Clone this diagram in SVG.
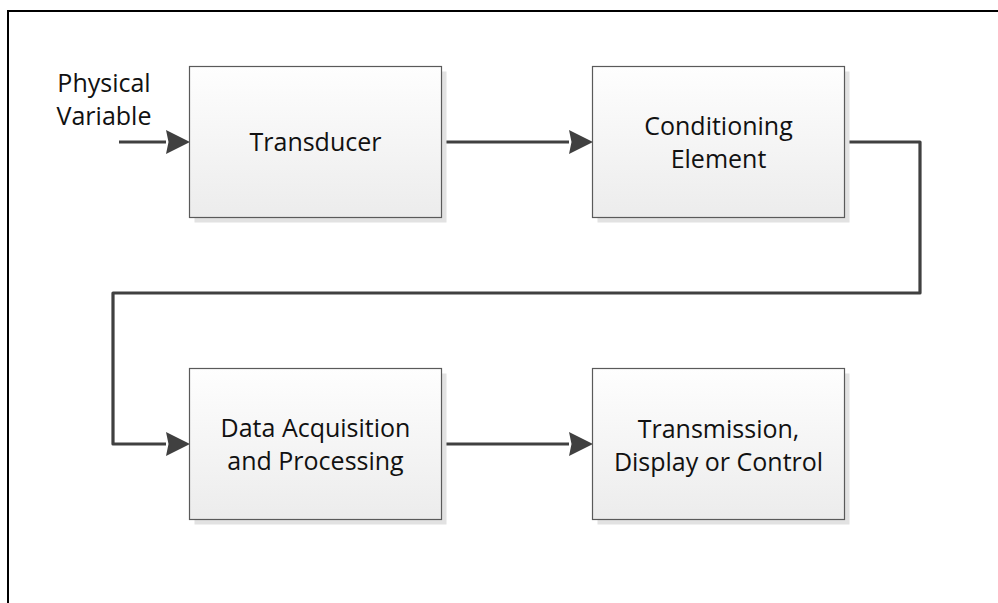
<svg xmlns="http://www.w3.org/2000/svg" width="998" height="603" viewBox="0 0 998 603">
  <defs>
    <linearGradient id="boxfill" x1="0" y1="0" x2="0" y2="1">
      <stop offset="0" stop-color="#fefefe"/>
      <stop offset="1" stop-color="#ececec"/>
    </linearGradient>
    <marker id="arrow" markerUnits="userSpaceOnUse" markerWidth="24" markerHeight="24" refX="0" refY="12" orient="auto" viewBox="0 0 24 24">
      <path d="M0,0 L24,12 L0,24 L2.5,12 z" fill="#404040"/>
    </marker>
    <style>
      .box { fill: url(#boxfill); stroke: #5a5a5a; stroke-width: 1.2; }
      .shadow { fill: #e2e2e2; }
      .lbl { font-family: "Open Sans", "Liberation Sans", sans-serif; font-size: 25px; fill: #111; text-anchor: middle; }
      .conn { fill: none; stroke: #404040; stroke-width: 3.2; marker-end: url(#arrow); }
      .frame { fill: none; stroke: #000; stroke-width: 2; }
    </style>
  </defs>
  <rect width="998" height="603" fill="#fff"/>
  <path class="frame" d="M8,603 L8,11 L998,11"/>

  <g id="connectors">
    <path class="conn" d="M119,142 L166,142"/>
    <path class="conn" d="M442,142 L569,142"/>
    <path class="conn" d="M844,142 L920,142 L920,293 L113,293 L113,444 L166,444" stroke-linejoin="round"/>
    <path class="conn" d="M442,444 L569,444"/>
  </g>

  <g id="physical-variable">
    <text class="lbl" x="104" y="92">Physical</text>
    <text class="lbl" x="104" y="125">Variable</text>
  </g>

  <g id="transducer">
    <rect class="shadow" x="194.5" y="71.5" width="252" height="151"/>
    <rect class="box" x="189.5" y="66.5" width="252" height="151"/>
    <text class="lbl" x="315.5" y="151">Transducer</text>
  </g>

  <g id="conditioning-element">
    <rect class="shadow" x="597.5" y="71.5" width="252" height="151"/>
    <rect class="box" x="592.5" y="66.5" width="252" height="151"/>
    <text class="lbl" x="718.5" y="134.5">Conditioning</text>
    <text class="lbl" x="718.5" y="167.5">Element</text>
  </g>

  <g id="data-acquisition">
    <rect class="shadow" x="194.5" y="373.5" width="252" height="151"/>
    <rect class="box" x="189.5" y="368.5" width="252" height="151"/>
    <text class="lbl" x="315.5" y="436.5">Data Acquisition</text>
    <text class="lbl" x="315.5" y="469.5">and Processing</text>
  </g>

  <g id="transmission-display">
    <rect class="shadow" x="597.5" y="373.5" width="252" height="151"/>
    <rect class="box" x="592.5" y="368.5" width="252" height="151"/>
    <text class="lbl" x="718.5" y="438">Transmission,</text>
    <text class="lbl" x="718.5" y="471">Display or Control</text>
  </g>
</svg>
